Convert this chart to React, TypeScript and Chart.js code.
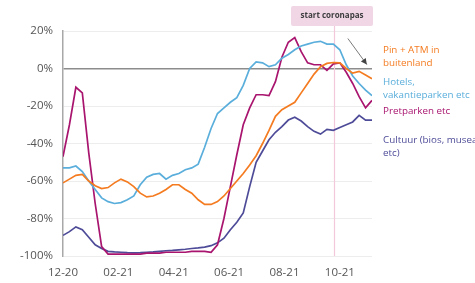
import React, { useEffect, useRef } from "react";
import { Chart, registerables } from "chart.js";

Chart.register(...registerables);

// Weekly index (0 = start of Dec 2020)
const TICK_POS = [0, 8.6, 17.2, 25.8, 34.4, 43.0];
const TICK_LABELS = ["12-20", "02-21", "04-21", "06-21", "08-21", "10-21"];
const Y_TICKS = [20, 0, -20, -40, -60, -80, -100];

const pinAtm = [
  -61, -59, -57, -56.5, -60, -62.5, -64, -63.5, -61, -59,
  -60.5, -63, -66.5, -68.5, -68, -66.5, -64.5, -62, -62, -64.5,
  -66.5, -70, -72.5, -72.5, -71, -68, -64, -60, -56, -51.5,
  -46.5, -40, -33, -25.5, -22, -20, -18, -13, -8, -3,
  1, 2.7, 3.2, 3, 0, -2.5, -1.5, -3.5, -5.5,
];

const hotels = [
  -53, -53, -52, -55, -60, -64.5, -69, -71, -72, -71.5,
  -70, -68, -62, -58, -56.5, -56, -59, -57, -56, -54,
  -53, -51, -42, -32, -24, -21, -18, -15.5, -9, 0,
  3.5, 3, 1, 2, 5.5, 7.5, 10, 12, 13, 14,
  14.5, 13, 13, 10, 2, -4, -8, -11.5, -14.5,
];

const pretparken = [
  -47, -30, -10, -13, -45, -72, -95, -99, -99, -99,
  -99, -99, -99, -98.5, -98.5, -98.5, -98, -98, -98, -98,
  -97.5, -97.5, -97.5, -98, -94, -80, -63, -46, -30, -21,
  -14, -14, -14.5, -7, 6, 14, 16.5, 9, 3, 2,
  2, -1, 2.5, 3, -2, -8, -15, -21, -17,
];

const cultuur = [
  -89, -87, -84.5, -86, -90, -94, -96, -97.5, -97.8, -98,
  -98.2, -98.3, -98.2, -98, -97.8, -97.5, -97.2, -97, -96.7, -96.4,
  -96, -95.7, -95.3, -94.5, -93, -90.5, -86, -82, -77, -63,
  -50, -44, -38, -34, -31, -27.5, -26, -28, -31, -33.5,
  -35, -32.5, -33, -31.5, -30, -28.5, -25, -27.5, -27.5,
];

const SERIES_NAMES = ["Pin + ATM in buitenland", "Hotels, vakantieparken etc", "Pretparken etc", "Cultuur (bios, musea etc)"];
const SERIES_COLORS = ["#F47B20", "#5AAEDB", "#A8146E", "#4E4B98"];

const LEGEND_LINES = [
  ["Pin + ATM in", "buitenland"],
  ["Hotels,", "vakantieparken etc"],
  ["Pretparken etc"],
  ["Cultuur (bios, musea", "etc)"],
];
const LEGEND_TOPS = [50, 82, 111, 140];

const CORONAPAS_WEEK = 42.1;
const CORONAPAS_LABEL = "start coronapas";
const ARROW_FROM = { x: 44.25, y: 16 };
const ARROW_TO = { x: 47.2, y: 2.1 };

const FONT = "'Open Sans', 'DejaVu Sans', sans-serif";

const annotations = {
  id: "annotations",
  beforeDatasetsDraw(chart: any) {
    const { ctx, scales, chartArea } = chart;
    const px = Math.round(scales.x.getPixelForValue(CORONAPAS_WEEK)) + 0.5;
    ctx.save();
    ctx.strokeStyle = "#F3C8DA";
    ctx.lineWidth = 1.2;
    ctx.beginPath();
    ctx.moveTo(px, 26);
    ctx.lineTo(px, chartArea.bottom);
    ctx.stroke();
    ctx.restore();
  },
  afterDraw(chart: any) {
    const { ctx, scales, chartArea } = chart;
    const px = scales.x.getPixelForValue(CORONAPAS_WEEK);
    ctx.save();
    // label box
    const bw = 82, bh = 20;
    const bx = px - 43, by = 6;
    ctx.fillStyle = "#F1D6E6";
    ctx.beginPath();
    ctx.roundRect(bx, by, bw, bh, 2);
    ctx.fill();
    ctx.fillStyle = "#3d3d3d";
    ctx.font = `bold 8px ${FONT}`;
    ctx.textAlign = "center";
    ctx.textBaseline = "middle";
    ctx.fillText(CORONAPAS_LABEL, bx + bw / 2, by + bh / 2);

    // arrow
    const x1 = scales.x.getPixelForValue(ARROW_FROM.x);
    const y1 = scales.y.getPixelForValue(ARROW_FROM.y);
    const x2 = scales.x.getPixelForValue(ARROW_TO.x);
    const y2 = scales.y.getPixelForValue(ARROW_TO.y);
    ctx.strokeStyle = "#7a7a7a";
    ctx.fillStyle = "#444";
    ctx.lineWidth = 1;
    ctx.beginPath();
    ctx.moveTo(x1, y1);
    ctx.lineTo(x2, y2);
    ctx.stroke();
    const ang = Math.atan2(y2 - y1, x2 - x1);
    const hl = 6, hw = 3;
    ctx.beginPath();
    ctx.moveTo(x2, y2);
    ctx.lineTo(x2 - hl * Math.cos(ang) + hw * Math.sin(ang), y2 - hl * Math.sin(ang) - hw * Math.cos(ang));
    ctx.lineTo(x2 - hl * Math.cos(ang) - hw * Math.sin(ang), y2 - hl * Math.sin(ang) + hw * Math.cos(ang));
    ctx.closePath();
    ctx.fill();

    // legend labels
    ctx.font = `9.8px ${FONT}`;
    ctx.textAlign = "left";
    ctx.textBaseline = "middle";
    LEGEND_LINES.forEach((lines, i) => {
      ctx.fillStyle = SERIES_COLORS[i];
      lines.forEach((t, j) => {
        ctx.fillText(t, chartArea.right + 11, LEGEND_TOPS[i] + j * 13);
      });
    });
    ctx.restore();
  },
};

export default function App() {
  const ref = useRef<HTMLCanvasElement | null>(null);
  useEffect(() => {
    if (!ref.current) return;
    const all = [pinAtm, hotels, pretparken, cultuur];
    const chart = new Chart(ref.current, {
      type: "line",
      data: {
        datasets: all.map((arr, i) => ({
          label: SERIES_NAMES[i],
          data: arr.map((v, k) => ({ x: k, y: v })),
          borderColor: SERIES_COLORS[i],
          backgroundColor: SERIES_COLORS[i],
          borderWidth: 1.7,
          pointRadius: 0,
          tension: 0,
          fill: false,
        })),
      },
      options: {
        responsive: false,
        animation: false,
        layout: { padding: { left: 0, right: 103, top: 31, bottom: 0 } },
        plugins: { legend: { display: false }, tooltip: { enabled: false } },
        scales: {
          x: {
            type: "linear",
            min: 0,
            max: 48,
            afterBuildTicks: (scale: any) => {
              scale.ticks = TICK_POS.map((v) => ({ value: v }));
            },
            afterFit: (scale: any) => {
              scale.height = 27;
            },
            grid: { display: false, drawTicks: false },
            border: { display: false },
            ticks: {
              padding: 10,
              autoSkip: false,
              maxRotation: 0,
              color: "#555",
              font: { family: FONT, size: 11.5 },
              callback: (_v: any, i: number) => TICK_LABELS[i],
            },
          },
          y: {
            min: -100,
            max: 20,
            afterBuildTicks: (scale: any) => {
              scale.ticks = Y_TICKS.map((v) => ({ value: v }));
            },
            afterFit: (scale: any) => {
              scale.width = 63;
            },
            grid: {
              drawTicks: false,
              color: (c: any) => (c.tick && c.tick.value === 0 ? "#8c8c8c" : "#ededed"),
              lineWidth: (c: any) => (c.tick && c.tick.value === 0 ? 1.5 : 1),
            },
            border: { display: true, color: "#a8a8a8", width: 1.5 },
            ticks: {
              padding: 10,
              color: "#555",
              font: { family: FONT, size: 11.5 },
              callback: (v: any) => `${v}%`,
            },
          },
        },
      },
      plugins: [annotations],
    });
    return () => chart.destroy();
  }, []);
  return (
    <div style={{ position: "fixed", left: 0, top: 0, width: 475, height: 283, background: "#fff" }}>
      <canvas ref={ref} width={475} height={283} style={{ width: 475, height: 283 }} />
    </div>
  );
}
